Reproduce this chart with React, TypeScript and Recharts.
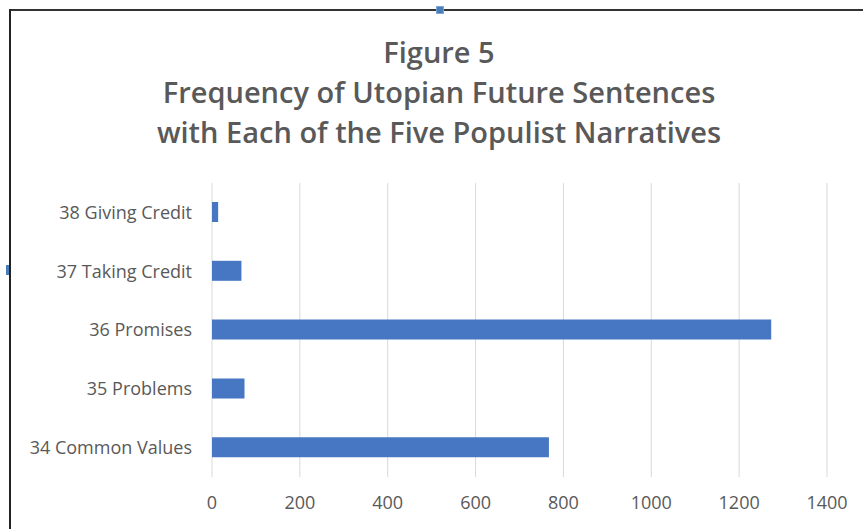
import { BarChart, Bar, XAxis, YAxis, CartesianGrid } from 'recharts'

const NARRATIVES = [
  '38 Giving Credit',
  '37 Taking Credit',
  '36 Promises',
  '35 Problems',
  '34 Common Values',
]
const SENTENCE_COUNTS = [14, 67, 1273, 74, 767]
const X_TICKS = [0, 200, 400, 600, 800, 1000, 1200, 1400]
const TITLE_LINES = [
  'Figure 5',
  'Frequency of Utopian Future Sentences',
  'with Each of the Five Populist Narratives',
]

const data = NARRATIVES.map((name, i) => ({ name, count: SENTENCE_COUNTS[i] }))

const FONT = '"Open Sans", "Liberation Sans", sans-serif'
const TEXT = '#595959'

export default function App() {
  return (
    <div style={{ position: 'absolute', left: 0, top: 0, width: 863, height: 529, background: '#fff', overflow: 'hidden', fontFamily: FONT }}>
      {/* frame edges */}
      <div style={{ position: 'absolute', left: 9, top: 9, width: 854, height: 2, background: '#333' }} />
      <div style={{ position: 'absolute', left: 9, top: 9, width: 2, height: 520, background: '#222' }} />
      {/* selection handles */}
      <div style={{ position: 'absolute', left: 436, top: 6, width: 8, height: 8, background: '#4a7ebb', border: '1px solid #7fa6d6', boxSizing: 'border-box' }} />
      <div style={{ position: 'absolute', left: 6, top: 265, width: 3, height: 10, background: '#4a7ebb' }} />

      <div style={{ position: 'absolute', left: 0, top: 32, width: 878, textAlign: 'center', color: TEXT, fontWeight: 600, fontSize: 29, lineHeight: '40px' }}>
        {TITLE_LINES.map(line => (
          <div key={line}>{line}</div>
        ))}
      </div>

      <BarChart
        width={863}
        height={529}
        data={data}
        layout="vertical"
        margin={{ top: 183, right: 36, left: 0, bottom: 22 }}
        style={{ position: 'absolute', left: 0, top: 0 }}
      >
        <CartesianGrid horizontal={false} stroke="#d9d9d9" />
        <XAxis
          type="number"
          domain={[0, 1400]}
          ticks={X_TICKS}
          height={30}
          axisLine={false}
          tickLine={false}
          tickMargin={13}
          tick={{ fill: TEXT, fontSize: 18, fontFamily: FONT }}
        />
        <YAxis
          type="category"
          dataKey="name"
          width={212}
          axisLine={false}
          tickLine={false}
          tickMargin={14}
          tick={{ fill: TEXT, fontSize: 18, fontFamily: FONT }}
        />
        <Bar dataKey="count" fill="#4777c2" barSize={20} isAnimationActive={false} />
      </BarChart>
    </div>
  )
}
